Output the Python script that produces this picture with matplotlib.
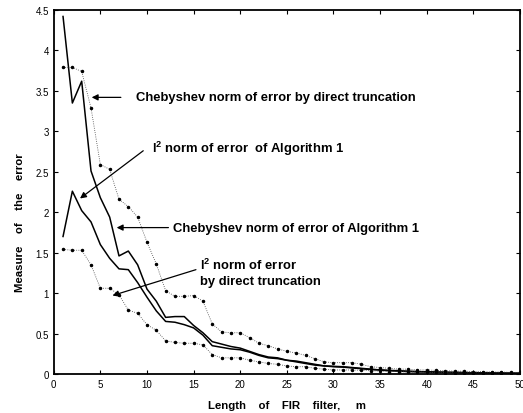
import numpy as np
import matplotlib
matplotlib.use("Agg")
import matplotlib.pyplot as plt

plt.rcParams['font.family'] = ['Liberation Sans', 'DejaVu Sans']
plt.rcParams['mathtext.fontset'] = 'custom'
plt.rcParams['mathtext.rm'] = 'Liberation Sans'
plt.rcParams['mathtext.bf'] = 'Liberation Sans:bold'

m = np.arange(1, 51)

# Chebyshev norm of error, Algorithm 1 (solid)
cheb_alg1 = [4.42, 3.35, 3.62, 2.51, 2.18, 1.94, 1.46, 1.52, 1.35, 1.05,
             0.90, 0.70, 0.71, 0.71, 0.60, 0.51, 0.40, 0.37, 0.34, 0.32,
             0.28, 0.24, 0.21, 0.20, 0.17, 0.16, 0.14, 0.12, 0.10, 0.095,
             0.09, 0.08, 0.07, 0.06, 0.05, 0.045, 0.04, 0.035, 0.03, 0.028,
             0.025, 0.022, 0.02, 0.018, 0.016, 0.015, 0.013, 0.012, 0.011, 0.01]
# l2 norm of error, Algorithm 1 (solid)
l2_alg1 = [1.70, 2.26, 2.02, 1.88, 1.60, 1.43, 1.30, 1.29, 1.13, 0.95,
           0.78, 0.65, 0.64, 0.61, 0.57, 0.48, 0.35, 0.33, 0.31, 0.30,
           0.27, 0.23, 0.20, 0.19, 0.17, 0.15, 0.13, 0.11, 0.10, 0.09,
           0.085, 0.075, 0.065, 0.055, 0.05, 0.04, 0.035, 0.03, 0.028, 0.025,
           0.022, 0.02, 0.018, 0.016, 0.014, 0.013, 0.012, 0.011, 0.01, 0.009]
# Chebyshev norm of error, direct truncation (dotted)
cheb_trunc = [3.79, 3.79, 3.74, 3.29, 2.59, 2.53, 2.16, 2.07, 1.94, 1.63,
              1.36, 1.03, 0.96, 0.96, 0.97, 0.90, 0.62, 0.52, 0.51, 0.51,
              0.45, 0.38, 0.35, 0.31, 0.28, 0.26, 0.23, 0.19, 0.15, 0.14,
              0.14, 0.14, 0.12, 0.09, 0.08, 0.07, 0.06, 0.06, 0.05, 0.05,
              0.045, 0.04, 0.035, 0.035, 0.03, 0.03, 0.025, 0.025, 0.02, 0.02]
# l2 norm of error, direct truncation (dotted)
l2_trunc = [1.54, 1.53, 1.53, 1.35, 1.06, 1.06, 0.98, 0.79, 0.75, 0.61,
            0.54, 0.41, 0.39, 0.38, 0.38, 0.36, 0.24, 0.20, 0.20, 0.20,
            0.17, 0.15, 0.13, 0.12, 0.10, 0.09, 0.09, 0.07, 0.06, 0.05,
            0.05, 0.05, 0.045, 0.04, 0.035, 0.03, 0.03, 0.025, 0.025, 0.02,
            0.02, 0.018, 0.016, 0.015, 0.014, 0.012, 0.011, 0.01, 0.01, 0.009]

fig = plt.figure(figsize=(5.23, 4.14), dpi=100)
ax = fig.add_axes([0.1027, 0.0942, 0.8916, 0.8792])

ax.plot(m, cheb_alg1, color='black', lw=1.1)
ax.plot(m, l2_alg1, color='black', lw=1.1)
ax.plot(m, cheb_trunc, color='#444444', lw=0.6, ls=':', marker='.', ms=3, mfc='black', mec='black')
ax.plot(m, l2_trunc, color='#444444', lw=0.6, ls=':', marker='.', ms=3, mfc='black', mec='black')

ax.set_xlim(0, 50)
ax.set_ylim(0, 4.5)
ax.set_xticks(np.arange(0, 51, 5))
ax.set_yticks(np.arange(0, 4.51, 0.5))
ax.set_yticklabels(['0', '0.5', '1', '1.5', '2', '2.5', '3', '3.5', '4', '4.5'])
ax.tick_params(direction='in', top=True, right=True, labelsize=7, length=3, width=0.8)
for s in ax.spines.values():
    s.set_linewidth(1.3)

ax.set_xlabel('Length    of    FIR    filter,     m', fontsize=8.2, fontweight='bold', labelpad=8)
ax.set_ylabel('Measure    of    the    error', fontsize=8.2, fontweight='bold')
ax.yaxis.set_label_coords(-0.061, 0.418)

arrow = dict(arrowstyle='-|>', color='black', lw=0.9, mutation_scale=9, shrinkA=0, shrinkB=0)
tfont = dict(fontsize=9.4, fontweight='bold', va='center', ha='left')

ax.annotate('', xy=(4.07, 3.42), xytext=(7.2, 3.42), arrowprops=arrow)
ax.text(8.8, 3.42, 'Chebyshev norm of error by direct truncation', **tfont)

ax.annotate('', xy=(2.82, 2.17), xytext=(9.6, 2.76), arrowprops=arrow)
ax.text(10.5, 2.80, r'$\mathbf{l}^{\mathbf{2}}$ norm of error  of Algorithm 1', **tfont)

ax.annotate('', xy=(6.75, 1.81), xytext=(12.3, 1.81), arrowprops=arrow)
ax.text(12.8, 1.81, 'Chebyshev norm of error of Algorithm 1', **tfont)

ax.annotate('', xy=(6.3, 0.97), xytext=(15.25, 1.29), arrowprops=arrow)
ax.text(15.7, 1.36, r'$\mathbf{l}^{\mathbf{2}}$ norm of error', **tfont)
ax.text(15.7, 1.15, 'by direct truncation', **tfont)

fig.savefig('out.png', dpi=100)
